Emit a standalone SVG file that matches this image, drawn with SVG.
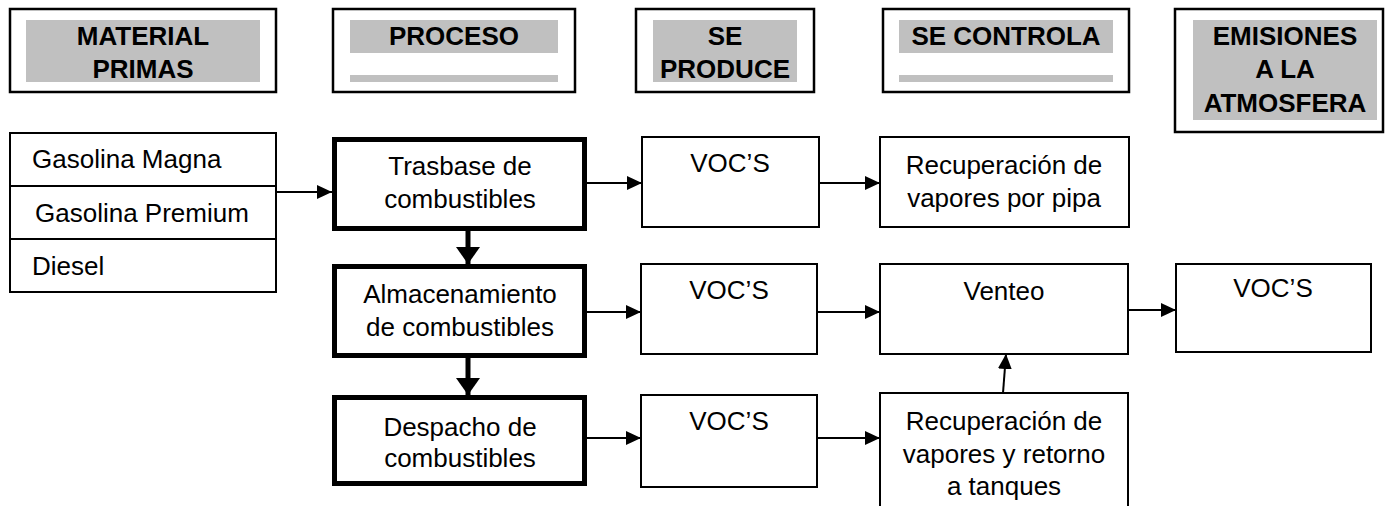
<svg xmlns="http://www.w3.org/2000/svg" width="1385" height="506" viewBox="0 0 1385 506">
  <defs>
    <marker id="arrow" markerUnits="userSpaceOnUse" markerWidth="15" markerHeight="14" viewBox="0 0 15 14" refX="15" refY="7" orient="auto">
      <path d="M0,0 L15,7 L0,14 z" fill="#000"/>
    </marker>
    <marker id="arrowBold" markerUnits="userSpaceOnUse" markerWidth="17" markerHeight="24" viewBox="0 0 17 24" refX="17" refY="12" orient="auto">
      <path d="M0,0 L17,12 L0,24 z" fill="#000"/>
    </marker>
  </defs>
  <style>
    rect { fill: #fff; stroke: #000; }
    .hdr { stroke-width: 2.5; }
    .box { stroke-width: 2; }
    .proc { stroke-width: 5; }
    .band { fill: #c0c0c0; stroke: none; }
    text { font-family: "Liberation Sans", Arial, sans-serif; font-size: 26px; fill: #000; }
    .h { font-weight: bold; text-anchor: middle; }
    .c { text-anchor: middle; }
    .link { stroke: #000; stroke-width: 2; fill: none; marker-end: url(#arrow); }
    .flow { stroke: #000; stroke-width: 5; fill: none; marker-end: url(#arrowBold); }
  </style>

  <!-- column headings -->
  <g id="hdr-materias">
    <rect class="hdr" x="10" y="9" width="266" height="83"/>
    <rect class="band" x="26" y="20" width="234" height="62"/>
    <text class="h" x="143" y="45">MATERIAL</text>
    <text class="h" x="143" y="78">PRIMAS</text>
  </g>
  <g id="hdr-proceso">
    <rect class="hdr" x="333" y="9" width="242" height="83"/>
    <rect class="band" x="350" y="20" width="208" height="33"/>
    <rect class="band" x="350" y="75" width="208" height="7"/>
    <text class="h" x="454" y="45">PROCESO</text>
  </g>
  <g id="hdr-produce">
    <rect class="hdr" x="636" y="9" width="178" height="83"/>
    <rect class="band" x="653" y="20" width="144" height="62"/>
    <text class="h" x="725" y="45">SE</text>
    <text class="h" x="725" y="78">PRODUCE</text>
  </g>
  <g id="hdr-controla">
    <rect class="hdr" x="883" y="9" width="246" height="83"/>
    <rect class="band" x="899" y="20" width="214" height="33"/>
    <rect class="band" x="899" y="75" width="214" height="7"/>
    <text class="h" x="1006" y="45">SE CONTROLA</text>
  </g>
  <g id="hdr-emisiones">
    <rect class="hdr" x="1175" y="9" width="208" height="123"/>
    <rect class="band" x="1193" y="20" width="184" height="100"/>
    <text class="h" x="1285" y="45">EMISIONES</text>
    <text class="h" x="1285" y="78">A LA</text>
    <text class="h" x="1285" y="112">ATMOSFERA</text>
  </g>

  <!-- raw materials list -->
  <g id="materias">
    <rect class="box" x="10" y="133" width="266" height="159"/>
    <line x1="10" y1="186" x2="276" y2="186" stroke="#000" stroke-width="2"/>
    <line x1="10" y1="239" x2="276" y2="239" stroke="#000" stroke-width="2"/>
    <text x="32" y="168">Gasolina Magna</text>
    <text x="35" y="222">Gasolina Premium</text>
    <text x="32" y="275">Diesel</text>
  </g>

  <!-- process steps -->
  <g id="trasbase">
    <rect class="proc" x="334.5" y="139.5" width="250" height="89"/>
    <text class="c" x="460" y="175">Trasbase de</text>
    <text class="c" x="460" y="208">combustibles</text>
  </g>
  <g id="almacenamiento">
    <rect class="proc" x="334.5" y="266.5" width="250" height="89"/>
    <text class="c" x="460" y="303">Almacenamiento</text>
    <text class="c" x="460" y="336">de combustibles</text>
  </g>
  <g id="despacho">
    <rect class="proc" x="334.5" y="397.5" width="250" height="86"/>
    <text class="c" x="460" y="436">Despacho de</text>
    <text class="c" x="460" y="467">combustibles</text>
  </g>

  <!-- emissions produced -->
  <g id="voc-trasbase">
    <rect class="box" x="642" y="137" width="177" height="90"/>
    <text class="c" x="730" y="172">VOC’S</text>
  </g>
  <g id="voc-almacenamiento">
    <rect class="box" x="641" y="264" width="176" height="90"/>
    <text class="c" x="729" y="299">VOC’S</text>
  </g>
  <g id="voc-despacho">
    <rect class="box" x="641" y="395" width="176" height="92"/>
    <text class="c" x="729" y="430">VOC’S</text>
  </g>

  <!-- controls -->
  <g id="recuperacion-pipa">
    <rect class="box" x="880" y="137" width="249" height="90"/>
    <text class="c" x="1004" y="174">Recuperación de</text>
    <text class="c" x="1004" y="207">vapores por pipa</text>
  </g>
  <g id="venteo">
    <rect class="box" x="880" y="264" width="248" height="90"/>
    <text class="c" x="1004" y="300">Venteo</text>
  </g>
  <g id="recuperacion-retorno">
    <rect class="box" x="880" y="393" width="248" height="130"/>
    <text class="c" x="1004" y="430">Recuperación de</text>
    <text class="c" x="1004" y="463">vapores y retorno</text>
    <text class="c" x="1004" y="495">a tanques</text>
  </g>

  <!-- atmospheric emissions -->
  <g id="voc-atmosfera">
    <rect class="box" x="1176" y="264" width="195" height="88"/>
    <text class="c" x="1273" y="297">VOC’S</text>
  </g>

  <!-- connectors -->
  <g id="connectors">
    <line class="link" x1="276" y1="192" x2="332" y2="192"/>
    <line class="link" x1="587" y1="183" x2="642" y2="183"/>
    <line class="link" x1="819" y1="183" x2="880" y2="183"/>
    <line class="link" x1="587" y1="312" x2="641" y2="312"/>
    <line class="link" x1="817" y1="312" x2="880" y2="312"/>
    <line class="link" x1="1128" y1="310" x2="1176" y2="310"/>
    <line class="link" x1="587" y1="438" x2="641" y2="438"/>
    <line class="link" x1="817" y1="438" x2="880" y2="438"/>
    <line class="link" x1="1003" y1="393" x2="1006" y2="354"/>
    <line class="flow" x1="468" y1="231" x2="468" y2="264"/>
    <line class="flow" x1="468" y1="358" x2="468" y2="395"/>
  </g>
</svg>
